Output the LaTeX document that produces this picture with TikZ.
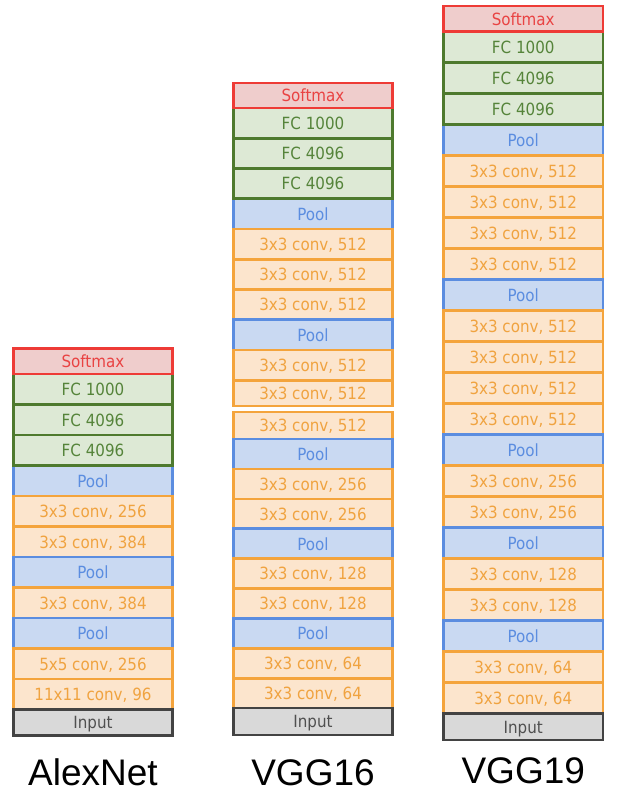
\documentclass[tikz,border=0pt]{standalone}
\usepackage{fontspec}
\setmainfont{Liberation Sans}
\newfontfamily\layerfont{DejaVu Sans Condensed}

\definecolor{smaxline}{HTML}{EE3B36}
\definecolor{smaxfill}{HTML}{EFCDCC}
\definecolor{smaxtext}{HTML}{E94343}
\definecolor{fcline}{HTML}{4E7A2E}
\definecolor{fcfill}{HTML}{DDE9D5}
\definecolor{fctext}{HTML}{55843A}
\definecolor{poolline}{HTML}{5B8DE0}
\definecolor{poolfill}{HTML}{C9D9F2}
\definecolor{pooltext}{HTML}{5B8DE0}
\definecolor{convline}{HTML}{F4A43C}
\definecolor{convfill}{HTML}{FCE5CD}
\definecolor{convtext}{HTML}{F0A340}
\definecolor{inline}{HTML}{434343}
\definecolor{infill}{HTML}{D9D9D9}
\definecolor{intext}{HTML}{505050}

% one layer box: name, style, x centre, top, bottom, text
\newcommand\lyr[6]{%
  \node[#2, minimum height={(#5)-(#4)}] (#1) at (#3,{((#4)+(#5))/2}) {#6};}

\tikzset{
  layer/.style={draw, line width=2.6pt, inner sep=0pt, outer sep=0pt,
    font=\layerfont\fontsize{16.8}{18}\selectfont,
    text height=0.72em+5.5pt, text depth=0pt},
  softmax/.style={layer, draw=smaxline, fill=smaxfill, text=smaxtext},
  fc/.style={layer, draw=fcline, fill=fcfill, text=fctext},
  pool/.style={layer, draw=poolline, fill=poolfill, text=pooltext},
  conv/.style={layer, draw=convline, fill=convfill, text=convtext},
  inputbox/.style={layer, draw=inline, fill=infill, text=intext},
  alex/.style={minimum width=159pt},
  vggA/.style={minimum width=159pt},
  vggB/.style={minimum width=159.5pt},
  netname/.style={anchor=base, inner sep=0pt, font=\fontsize{37}{40}\selectfont}
}

\begin{document}
\begin{tikzpicture}[x=1pt, y=-1pt]
\useasboundingbox (0,0) rectangle (632,804);

% ---------------- AlexNet ----------------
\begin{scope}[every node/.append style={alex}]
\lyr{a3}{pool}{93}{465.5}{496}{Pool}
\lyr{a4}{conv}{93}{496}{526.5}{3x3 conv, 256}
\lyr{a5}{conv}{93}{526.5}{557}{3x3 conv, 384}
\lyr{a6}{pool}{93}{557}{587.5}{Pool}
\lyr{a7}{conv}{93}{587.5}{618}{3x3 conv, 384}
\lyr{a8}{pool}{93}{618}{648.5}{Pool}
\lyr{a9}{conv}{93}{648.5}{679}{5x5 conv, 256}
\lyr{a10}{conv}{93}{679}{709.5}{11x11 conv, 96}
\lyr{ain}{inputbox}{93}{709.5}{735.5}{Input}
\lyr{a0}{fc}{93}{374}{404.5}{FC 1000}
\lyr{a1}{fc}{93}{404.5}{435}{FC 4096}
\lyr{a2}{fc}{93}{435}{465.5}{FC 4096}
\lyr{asm}{softmax}{93}{348.5}{374}{Softmax}
\end{scope}
\node[netname] (alexnet) at (93,785) {AlexNet};

% ---------------- VGG16 ----------------
\begin{scope}[every node/.append style={vggA}]
\lyr{b3}{pool}{313}{198.75}{229}{Pool}
\lyr{b4}{conv}{313}{229}{259.25}{3x3 conv, 512}
\lyr{b5}{conv}{313}{259.25}{289.5}{3x3 conv, 512}
\lyr{b6}{conv}{313}{289.5}{319.75}{3x3 conv, 512}
\lyr{b7}{pool}{313}{319.75}{350}{Pool}
\lyr{b8}{conv}{313}{350}{380.25}{3x3 conv, 512}
\lyr{b9}{conv}{313}{380.25}{406}{3x3 conv, 512}
\lyr{b10}{conv}{313}{412}{439}{3x3 conv, 512}
\lyr{b11}{pool}{313}{439}{468.9}{Pool}
\lyr{b12}{conv}{313}{468.9}{498.8}{3x3 conv, 256}
\lyr{b13}{conv}{313}{498.8}{528.7}{3x3 conv, 256}
\lyr{b14}{pool}{313}{528.7}{558.6}{Pool}
\lyr{b15}{conv}{313}{558.6}{588.5}{3x3 conv, 128}
\lyr{b16}{conv}{313}{588.5}{618.4}{3x3 conv, 128}
\lyr{b17}{pool}{313}{618.4}{648.3}{Pool}
\lyr{b18}{conv}{313}{648.3}{678.2}{3x3 conv, 64}
\lyr{b19}{conv}{313}{678.2}{708.1}{3x3 conv, 64}
\lyr{bin}{inputbox}{313}{708.1}{735}{Input}
\lyr{b0}{fc}{313}{108}{138.25}{FC 1000}
\lyr{b1}{fc}{313}{138.25}{168.5}{FC 4096}
\lyr{b2}{fc}{313}{168.5}{198.75}{FC 4096}
\lyr{bsm}{softmax}{313}{83}{108}{Softmax}
\end{scope}
\node[netname] (vgg16) at (313,785) {VGG16};

% ---------------- VGG19 ----------------
\begin{scope}[every node/.append style={vggB}]
\lyr{c3}{pool}{523.25}{124.7}{155.7}{Pool}
\lyr{c4}{conv}{523.25}{155.7}{186.7}{3x3 conv, 512}
\lyr{c5}{conv}{523.25}{186.7}{217.7}{3x3 conv, 512}
\lyr{c6}{conv}{523.25}{217.7}{248.7}{3x3 conv, 512}
\lyr{c7}{conv}{523.25}{248.7}{279.7}{3x3 conv, 512}
\lyr{c8}{pool}{523.25}{279.7}{310.7}{Pool}
\lyr{c9}{conv}{523.25}{310.7}{341.7}{3x3 conv, 512}
\lyr{c10}{conv}{523.25}{341.7}{372.7}{3x3 conv, 512}
\lyr{c11}{conv}{523.25}{372.7}{403.7}{3x3 conv, 512}
\lyr{c12}{conv}{523.25}{403.7}{434.7}{3x3 conv, 512}
\lyr{c13}{pool}{523.25}{434.7}{465.7}{Pool}
\lyr{c14}{conv}{523.25}{465.7}{496.7}{3x3 conv, 256}
\lyr{c15}{conv}{523.25}{496.7}{527.7}{3x3 conv, 256}
\lyr{c16}{pool}{523.25}{527.7}{558.7}{Pool}
\lyr{c17}{conv}{523.25}{558.7}{589.7}{3x3 conv, 128}
\lyr{c18}{conv}{523.25}{589.7}{620.7}{3x3 conv, 128}
\lyr{c19}{pool}{523.25}{620.7}{651.7}{Pool}
\lyr{c20}{conv}{523.25}{651.7}{682.7}{3x3 conv, 64}
\lyr{c21}{conv}{523.25}{682.7}{713.7}{3x3 conv, 64}
\lyr{cin}{inputbox}{523.25}{713.7}{740}{Input}
\lyr{c0}{fc}{523.25}{31.7}{62.7}{FC 1000}
\lyr{c1}{fc}{523.25}{62.7}{93.7}{FC 4096}
\lyr{c2}{fc}{523.25}{93.7}{124.7}{FC 4096}
\lyr{csm}{softmax}{523.25}{6}{31.7}{Softmax}
\end{scope}
\node[netname] (vgg19) at (523.25,783) {VGG19};
\end{tikzpicture}
\end{document}
